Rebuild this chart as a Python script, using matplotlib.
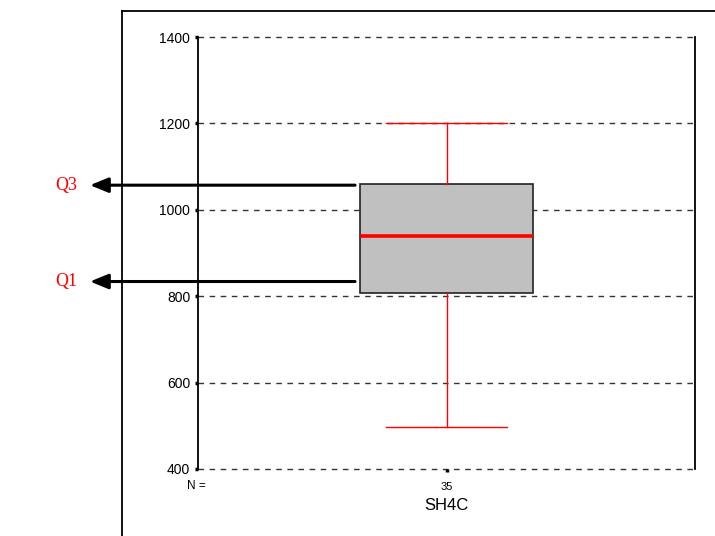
import matplotlib
matplotlib.use('Agg')
import matplotlib.pyplot as plt
from matplotlib.lines import Line2D
from matplotlib.transforms import blended_transform_factory

# valores (SH4C, N = 35)
variavel = 'SH4C'
n_casos = 35
minimo = 498
q1 = 808
mediana = 940
q3 = 1059
maximo = 1200
yticks = [400, 600, 800, 1000, 1200, 1400]

# setas Q1 / Q3
rotulos_setas = ['Q3', 'Q1']
y_setas = [1057, 834]

plt.rcParams['font.family'] = ['Liberation Sans', 'DejaVu Sans']

fig = plt.figure(figsize=(7.15, 5.36), dpi=100)
ax = fig.add_axes([198 / 715, 1 - 469 / 536, 497 / 715, 432 / 536])

stats = [{'whislo': minimo, 'q1': q1, 'med': mediana, 'q3': q3, 'whishi': maximo, 'fliers': []}]
ax.bxp(stats, positions=[1], widths=0.696, capwidths=0.49, patch_artist=True, showfliers=False,
       boxprops=dict(facecolor='#c0c0c0', edgecolor='#222222', linewidth=1.2),
       medianprops=dict(color='red', linewidth=2.6),
       whiskerprops=dict(color='red', linewidth=1),
       capprops=dict(color='red', linewidth=1))

ax.set_xlim(0, 2)
ax.set_ylim(400, 1400)
ax.set_yticks(yticks)
ax.set_yticklabels([str(v) for v in yticks], fontsize=10)
ax.set_xticks([1])
ax.set_xticklabels([str(n_casos)], fontsize=8)
ax.tick_params(axis='both', length=2, width=2.5, color='black')
ax.tick_params(axis='x', pad=7)

# grade tracejada
for v in yticks:
    ax.axhline(v, color='#333333', linestyle=(0, (4, 4)), linewidth=1, zorder=0, clip_on=False)

ax.spines['top'].set_visible(False)
ax.spines['bottom'].set_visible(False)
ax.spines['left'].set_linewidth(1.3)
ax.spines['right'].set_linewidth(1.3)

fig.text(187 / 715, 1 - 486 / 536, 'N =', fontsize=8.5, ha='left', va='center')
ax.set_xlabel(variavel, fontsize=12, labelpad=5)

# moldura externa
fig.add_artist(Line2D([122 / 715, 122 / 715], [0, 1 - 11 / 536], color='black', linewidth=1.3))
fig.add_artist(Line2D([122 / 715, 1], [1 - 11 / 536, 1 - 11 / 536], color='black', linewidth=1.3))

# setas apontando Q3 e Q1
trans = blended_transform_factory(fig.transFigure, ax.transData)
for rot, yv in zip(rotulos_setas, y_setas):
    ax.annotate('', xy=(90 / 715, yv), xycoords=trans,
                xytext=(0.632, yv), textcoords='data',
                arrowprops=dict(arrowstyle='-|>,head_length=1.1,head_width=0.45', color='black',
                                linewidth=2.2, shrinkA=0, shrinkB=0),
                annotation_clip=False)
    ax.text(55 / 715, yv, rot, transform=trans,
            fontsize=13, color='red', family=['Liberation Serif'], va='center', ha='left')

fig.savefig('out.png', dpi=100)
